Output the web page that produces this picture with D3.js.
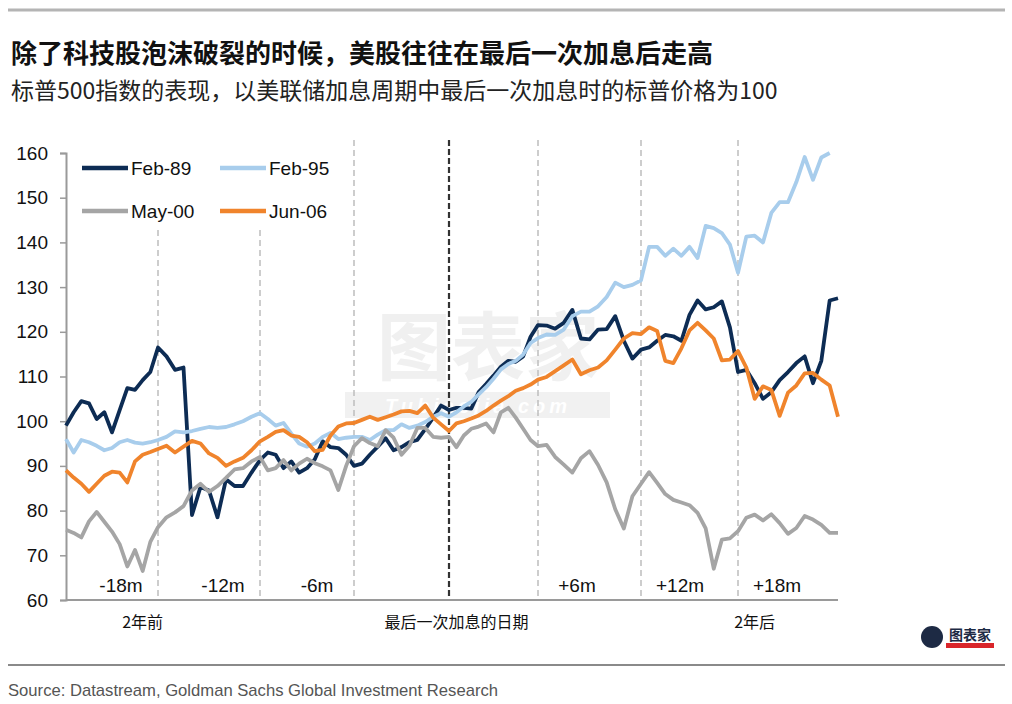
<!DOCTYPE html>
<html>
<head>
<meta charset="utf-8">
<script src="https://cdn.jsdelivr.net/npm/d3@7"></script>
<style>
  body { margin: 0; background: #fff; }
  svg { display: block; }
</style>
</head>
<body>
<div id="main"></div>
<script>
const ctx = {
    W: 1012,
    H: 704,
    CJK: "'Noto Sans CJK SC', sans-serif",
    LAT: "'Liberation Sans', Arial, sans-serif"
};

// months relative to the last hike, half-month steps
const months = [-24,-23.5,-23,-22.5,-22,-21.5,-21,-20.5,-20,-19.5,-19,-18.5,-18,
    -17.5,-17,-16.5,-16,-15.5,-15,-14.5,-14,-13.5,-13,-12.5,-12,
    -11.5,-11,-10.5,-10,-9.5,-9,-8.5,-8,-7.5,-7,-6.5,-6,
    -5.5,-5,-4.5,-4,-3.5,-3,-2.5,-2,-1.5,-1,-0.5,0,
    0.5,1,1.5,2,2.5,3,3.5,4,4.5,5,5.5,6,
    6.5,7,7.5,8,8.5,9,9.5,10,10.5,11,11.5,12,
    12.5,13,13.5,14,14.5,15,15.5,16,16.5,17,17.5,18,
    18.5,19,19.5,20,20.5,21,21.5,22,22.5,23,23.5,24];

const feb89 = [99,102,104.5,104,100.5,102,97.5,102.5,107.4,107,109.2,111,116.5,
    114.5,111.5,112,79,85.3,84.5,78.5,87,85.5,85.5,88.5,91.3,
    93,92.5,89.5,91,88.5,89.5,91.5,95.5,94.2,94,92.5,90,
    90.5,92.5,94.3,96.2,93.5,94.2,95.3,95.8,98.2,100.8,103.5,102.5,
    103,103,102.8,106.5,108.3,110.2,112.2,113.5,113.3,114.5,118.9,121.5,
    121.4,120.7,122,124.9,118.5,118.3,120.5,120.6,123.5,118,114,116,
    116.5,118,119.3,119,118,123.8,127,125,125.5,126.8,121,111,
    111.5,108.5,105,106.5,109.2,111,113,114.5,108.5,113.5,127,127.5];

const feb95 = [96,93,95.8,95.3,94.5,93.5,94,95.3,95.8,95.2,95,95.3,95.8,
    96.5,97.7,97.5,97.8,98.3,98.7,98.5,98.7,99.3,100,101,101.8,
    100.5,99,99.6,97.2,95,94.3,95,96.5,97.4,96,96.3,96.5,
    96.5,95.8,97,98,98,99.3,98.5,99,99.8,101,101.8,101,
    102,103.3,104.3,106,107.6,109.5,111.6,112.8,113.5,114.9,117.5,118.6,
    119.4,119.3,120.5,123.5,124.5,124.5,125.7,127.8,131,130,130.5,131.5,
    139,139,137,138.6,137,139,136.5,143.7,143.2,142.1,139.5,133.2,
    141.3,141.5,140,146.6,149,149,153.5,159.1,154,159,160,null];

const may00 = [75.7,75,74,77.6,79.7,77.5,75.3,72.5,67.5,71.2,66.5,73,76.3,
    78.5,79.6,81,84.5,86,84.2,85.5,87.3,89.2,89.5,91,92,
    89,89.5,91.3,89,90.5,91.6,90.6,89.9,89,84.6,90,94.4,
    96.2,95.1,94.4,98,96.3,92.5,94.5,98.5,98.5,96.5,96.3,96.5,
    94.2,96.8,98.3,98.8,99.5,97.5,102,103,100.8,98.3,95.8,94.4,
    94.7,92,90.3,88.5,91.7,93.3,90.2,86.3,80.3,76,83.2,86,
    88.6,86.2,83.7,82.4,81.8,81.2,79.5,76,67,73.5,73.8,75.4,
    78.4,79.1,77.8,79.2,77.2,74.8,76.1,78.8,78,76.8,75,75];

const jun06 = [89,87.4,86,84.2,86,87.8,88.7,88.5,86.3,91,92.5,93.1,93.8,
    94.5,93,94.3,95.6,95,92.8,91.8,90,91,91.8,93.5,95.5,
    96.5,97.6,98,96.8,96.5,95.3,93.3,93.6,96.8,98.8,99.5,99.6,
    100.3,101,100.3,100.9,101.5,102.2,102.3,101.8,103.5,100.8,99.3,97.8,
    99.5,100,100.6,101.3,102.3,103.5,104.6,105.6,106.8,107.4,108.2,109.3,
    109.9,111.2,112.5,113.8,110.5,111.4,112,113.6,116,118.5,119.7,119.5,
    121,120.2,113.5,113,116.3,120.3,122,120.3,118.5,113.6,113.8,115.7,
    112,105,107.8,107,101.2,106.4,108,110.7,110.8,109.3,108,101];

const seriesNames = ["Feb-89", "Feb-95", "May-00", "Jun-06"];
const seriesColors = ["#0d2c54", "#a8cdec", "#a5a5a5", "#f0842c"];
const yTicks = [60, 70, 80, 90, 100, 110, 120, 130, 140, 150, 160];
const markMonths = [-18, -12, -6, 6, 12, 18];
const markLabels = ["-18m", "-12m", "-6m", "+6m", "+12m", "+18m"];
const bottomLabels = [[-19, "2年前"], [0.5, "最后一次加息的日期"], [19, "2年后"]];

const title = "除了科技股泡沫破裂的时候，美股往往在最后一次加息后走高";
const subtitle = "标普500指数的表现，以美联储加息周期中最后一次加息时的标普价格为100";
const source = "Source: Datastream, Goldman Sachs Global Investment Research";

function createViz() {
    const svg = d3.select("#main").append("svg")
        .attr("width", ctx.W).attr("height", ctx.H);
    svg.append("rect").attr("width", ctx.W).attr("height", ctx.H).attr("fill", "#fff");

    // header
    svg.append("line").attr("x1", 8).attr("x2", 1005).attr("y1", 10).attr("y2", 10)
        .attr("stroke", "#b4b4b4").attr("stroke-width", 3);
    svg.append("text").attr("x", 11).attr("y", 63)
        .style("font-family", ctx.CJK).style("font-weight", "bold").style("font-size", "26px")
        .attr("fill", "#111").text(title);
    svg.append("text").attr("x", 11).attr("y", 99)
        .style("font-family", ctx.CJK).style("font-size", "23px")
        .attr("fill", "#222").text(subtitle);

    // scales: month positions follow the trading-day spacing of the original axis
    const x = d3.scaleLinear()
        .domain([-24, -18, -12, -6, 0, 6, 12, 18, 24])
        .range([66, 158, 260, 354, 449, 538, 641, 738, 838]);
    const y = d3.scaleLinear().domain([60, 160]).range([600, 153]);

    const plot = svg.append("g");

    // watermark
    const wm = plot.append("g").attr("opacity", 0.55);
    wm.append("text").attr("x", 488).attr("y", 374).attr("text-anchor", "middle")
        .style("font-family", ctx.CJK).style("font-weight", "bold").style("font-size", "74px")
        .attr("fill", "#e4e4e4").text("图表家");
    wm.append("rect").attr("x", 345).attr("y", 392).attr("width", 265).attr("height", 26)
        .attr("fill", "#e6e6e6");
    wm.append("text").attr("x", 478).attr("y", 413).attr("text-anchor", "middle")
        .style("font-family", ctx.LAT).style("font-weight", "bold").style("font-style", "italic")
        .style("font-size", "20px").attr("letter-spacing", "4px")
        .attr("fill", "#fff").text("Tubiaojia.com");

    // month guide lines
    plot.selectAll(".guide").data(markMonths).enter().append("line")
        .attr("x1", d => x(d)).attr("x2", d => x(d))
        .attr("y1", 140).attr("y2", y(60))
        .attr("stroke", "#bdbdbd").attr("stroke-width", 1.5)
        .attr("stroke-dasharray", "6,4");
    plot.append("line")
        .attr("x1", x(0)).attr("x2", x(0)).attr("y1", 140).attr("y2", y(60))
        .attr("stroke", "#333").attr("stroke-width", 2.2)
        .attr("stroke-dasharray", "6,3");

    plot.selectAll(".mlab").data(markMonths).enter().append("text")
        .attr("x", (d) => x(d) + (d < 0 ? -37 : 39))
        .attr("y", 592).attr("text-anchor", "middle")
        .style("font-family", ctx.LAT).style("font-size", "19px").attr("fill", "#111")
        .text((d, i) => markLabels[i]);

    // axes
    const yAxis = d3.axisLeft(y).tickValues(yTicks).tickSize(6).tickPadding(12);
    const yG = plot.append("g").attr("transform", `translate(${x(-24)},0)`).call(yAxis);
    yG.select(".domain").attr("stroke", "#9a9a9a").attr("stroke-width", 2);
    yG.selectAll(".tick line").attr("stroke", "#9a9a9a").attr("stroke-width", 1.5);
    yG.selectAll(".tick text").style("font-family", ctx.LAT).style("font-size", "19px")
        .attr("fill", "#111");

    plot.append("line").attr("x1", x(-24)).attr("x2", x(24)).attr("y1", y(60)).attr("y2", y(60))
        .attr("stroke", "#9a9a9a").attr("stroke-width", 2);

    plot.selectAll(".blab").data(bottomLabels).enter().append("text")
        .attr("x", d => x(d[0])).attr("y", 628).attr("text-anchor", "middle")
        .style("font-family", ctx.CJK).style("font-size", "16px").attr("fill", "#111")
        .text(d => d[1]);

    // series
    const allSeries = [feb89, feb95, may00, jun06];
    const line = d3.line()
        .defined(d => d[1] != null)
        .x(d => x(d[0]))
        .y(d => y(d[1]));
    allSeries.forEach((vals, i) => {
        plot.append("path")
            .datum(months.map((m, j) => [m, vals[j]]))
            .attr("d", line)
            .attr("fill", "none")
            .attr("stroke", seriesColors[i])
            .attr("stroke-width", 3.8)
            .attr("stroke-linejoin", "round");
    });

    // legend
    const leg = plot.append("g");
    leg.append("rect").attr("x", 70).attr("y", 140).attr("width", 275).attr("height", 88)
        .attr("fill", "#fff");
    seriesNames.forEach((name, i) => {
        const lx = 82 + (i % 2) * 138;
        const ly = 168 + Math.floor(i / 2) * 43;
        leg.append("line").attr("x1", lx).attr("x2", lx + 46).attr("y1", ly).attr("y2", ly)
            .attr("stroke", seriesColors[i]).attr("stroke-width", 4.5);
        leg.append("text").attr("x", lx + 49).attr("y", ly + 7)
            .style("font-family", ctx.LAT).style("font-size", "19px").attr("fill", "#111")
            .text(name);
    });

    // logo
    const logo = svg.append("g");
    logo.append("circle").attr("cx", 932).attr("cy", 637).attr("r", 11).attr("fill", "#1d2a44");
    logo.append("rect").attr("x", 946).attr("y", 627).attr("width", 48).attr("height", 16)
        .attr("fill", "#fff");
    logo.append("text").attr("x", 970).attr("y", 640).attr("text-anchor", "middle")
        .style("font-family", ctx.CJK).style("font-weight", "bold").style("font-size", "14px")
        .attr("fill", "#1d2a44").text("图表家");
    logo.append("rect").attr("x", 946).attr("y", 643).attr("width", 48).attr("height", 5)
        .attr("fill", "#d9252a");

    // footer
    svg.append("line").attr("x1", 8).attr("x2", 1005).attr("y1", 665).attr("y2", 665)
        .attr("stroke", "#8a8a8a").attr("stroke-width", 2);
    svg.append("text").attr("x", 8).attr("y", 696)
        .style("font-family", ctx.LAT).style("font-size", "17px")
        .attr("textLength", 490).attr("lengthAdjust", "spacingAndGlyphs")
        .attr("fill", "#555").text(source);
}

createViz();
</script>
</body>
</html>
